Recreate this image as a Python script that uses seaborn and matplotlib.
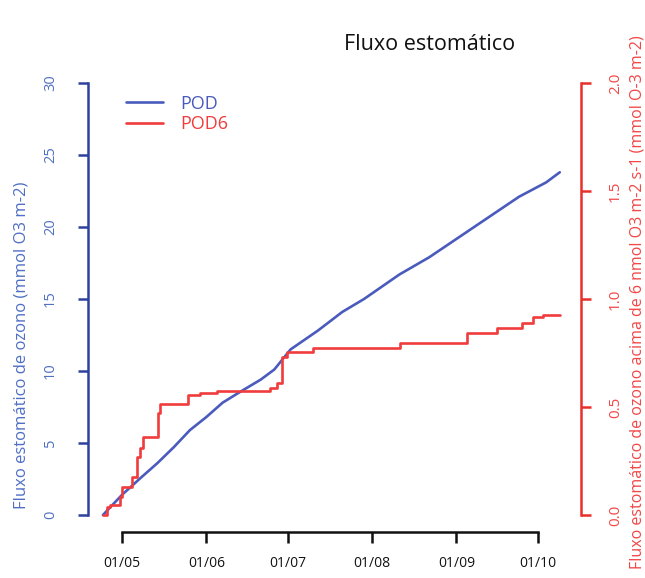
import matplotlib
matplotlib.use("Agg")
import matplotlib.pyplot as plt
import seaborn as sns
import pandas as pd
from matplotlib.lines import Line2D

# days since 1 May
pod_days = [-7, 0, 7, 13, 19, 25, 31, 37, 43, 51, 56, 62, 72, 81, 89, 102, 113, 124, 135, 146, 156, 161]
pod_vals = [0, 1.4, 2.6, 3.6, 4.7, 5.9, 6.8, 7.8, 8.5, 9.4, 10.1, 11.5, 12.8, 14.1, 15.0, 16.7, 17.9, 19.3, 20.7, 22.1, 23.1, 23.8]

pod6_days = [-7, -5.5, -4.4, -0.7, 0, 3.7, 5.5, 6.6, 7.7, 13.2, 14.0, 24.3, 28.7, 34.9, 54.4, 57.0, 58.8, 60.7,
             70.2, 102.2, 126.9, 137.9, 147.1, 151.2, 154.8, 161.1]
pod6_vals = [0, 0.037, 0.046, 0.083, 0.13, 0.176, 0.27, 0.31, 0.36, 0.47, 0.515, 0.556, 0.565, 0.574, 0.588,
             0.611, 0.73, 0.755, 0.773, 0.796, 0.843, 0.866, 0.889, 0.917, 0.926, 0.926]

tick_days = [0, 31, 61, 92, 123, 153]
tick_labels = ["01/05", "01/06", "01/07", "01/08", "01/09", "01/10"]
left_ticks = [0, 5, 10, 15, 20, 25, 30]
right_ticks = [0.0, 0.5, 1.0, 1.5, 2.0]

BLUE = "#4a5bbd"
BLUE_AX = "#2f419f"
BLUE_TXT = "#4f6fc4"
RED = "#f03c3c"
RED_TXT = "#f24646"

sns.set_style("white")
plt.rcParams["font.family"] = ["Open Sans", "DejaVu Sans"]

fig = plt.figure(figsize=(6.45, 5.78), dpi=100)
ax = fig.add_axes([88 / 645, 1 - 532 / 578, (581 - 88) / 645, (532 - 83) / 578])
ax2 = ax.twinx()

df1 = pd.DataFrame({"day": pod_days, "val": pod_vals})
df2 = pd.DataFrame({"day": pod6_days, "val": pod6_vals})
sns.lineplot(data=df1, x="day", y="val", ax=ax, color=BLUE, linewidth=1.9)
sns.lineplot(data=df2, x="day", y="val", ax=ax2, color=RED, linewidth=1.9, drawstyle="steps-post")

ax.set_xlim(-12.5, 168.8)
ax.set_ylim(-1.18, 30)
ax2.set_ylim(-1.18 / 15, 2.0)

for a in (ax, ax2):
    for s in a.spines.values():
        s.set_visible(False)
    a.set_xlabel("")
    a.set_ylabel("")
    a.grid(False)

ax.spines["left"].set_visible(True)
ax.spines["left"].set_color(BLUE_AX)
ax.spines["left"].set_linewidth(1.8)
ax.spines["left"].set_bounds(0, 30)
ax.set_yticks(left_ticks)
ax.set_yticklabels([str(t) for t in left_ticks])
ax.tick_params(axis="y", direction="out", length=7.5, width=1.8, color=BLUE_AX,
               labelcolor=BLUE_TXT, labelsize=10.5, pad=14, labelrotation=90, left=True)
for lbl in ax.get_yticklabels():
    lbl.set_va("center")

ax.spines["bottom"].set_visible(True)
ax.spines["bottom"].set_color("#111111")
ax.spines["bottom"].set_linewidth(1.8)
ax.spines["bottom"].set_bounds(0, 153)
ax.set_xticks(tick_days)
ax.set_xticklabels(tick_labels)
ax.tick_params(axis="x", direction="out", length=8, width=1.8, color="#111111",
               labelcolor="#111111", labelsize=10, pad=9, bottom=True)

ax2.spines["right"].set_visible(True)
ax2.spines["right"].set_color("#e8302a")
ax2.spines["right"].set_linewidth(1.8)
ax2.spines["right"].set_bounds(0, 2.0)
ax2.set_yticks(right_ticks)
ax2.set_yticklabels([f"{t:.1f}" for t in right_ticks])
ax2.tick_params(axis="y", direction="out", length=7.5, width=1.8, color="#e8302a",
                labelcolor=RED_TXT, labelsize=11, pad=12, labelrotation=90, right=True)
for lbl in ax2.get_yticklabels():
    lbl.set_va("center")

fig.text(22 / 645, 1 - 345 / 578, "Fluxo estomático de ozono (mmol O3 m-2)", rotation=90,
         ha="center", va="center", color=BLUE_TXT, fontsize=12)
fig.text(637 / 645, 1 - 302 / 578, "Fluxo estomático de ozono acima de 6 nmol O3 m-2 s-1 (mmol O-3 m-2)",
         rotation=90, ha="center", va="center", color=RED_TXT, fontsize=11.5)
fig.text(430 / 645, 1 - 45 / 578, "Fluxo estomático", ha="center", va="center",
         color="#111111", fontsize=15.5)

handles = [Line2D([], [], color=BLUE, linewidth=1.9), Line2D([], [], color=RED, linewidth=1.9)]
leg = ax.legend(handles, ["POD", "POD6"], loc="upper left", bbox_to_anchor=(0.045, 1.01),
                frameon=False, fontsize=13, handlelength=2.0, handletextpad=1.0,
                labelspacing=0.15, labelcolor=[BLUE, RED])

fig.savefig("out.png", dpi=100)
